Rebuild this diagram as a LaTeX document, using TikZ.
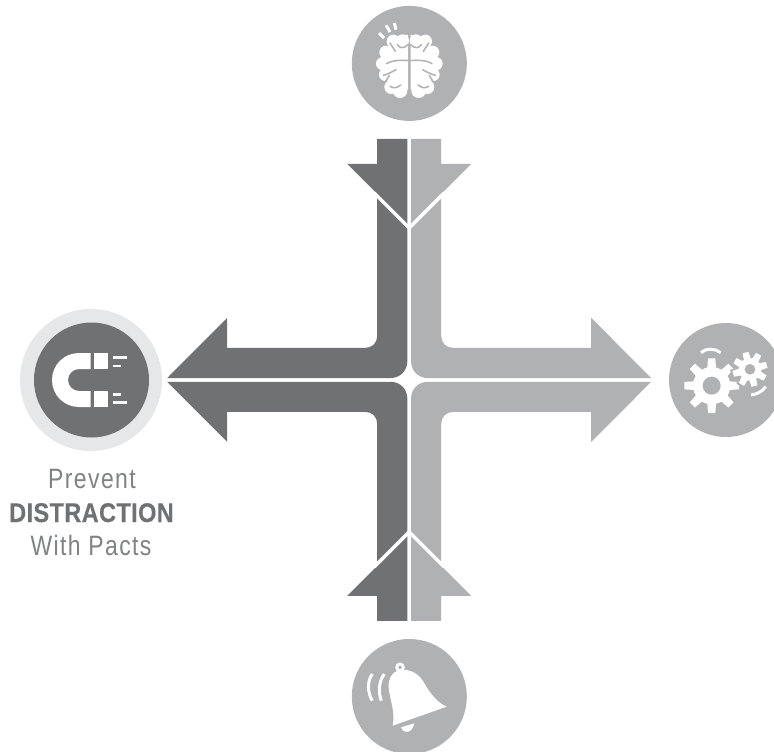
\documentclass[tikz,border=0pt]{standalone}
\usepackage{fontspec}
\setmainfont{Liberation Sans}
\newfontfamily\capreg[FakeStretch=0.82,LetterSpace=5]{Liberation Sans}
\newfontfamily\capbold[FakeStretch=0.87,LetterSpace=1.5,FakeBold=0.4]{Liberation Sans Bold}
\definecolor{armdark}{HTML}{707173}
\definecolor{armlight}{HTML}{B0B1B3}
\definecolor{halo}{HTML}{E6E7E8}
\definecolor{caption}{HTML}{808285}
\newcommand{\armquadrant}[1]{%
  \fill[#1] (-1.85,-241) -- (-32,-241) -- (-32,-216) -- (-62,-216) -- (-32,-186) -- (-32,-44)
    .. controls (-32,-37) and (-37,-32) .. (-44,-32) -- (-182,-32) -- (-182,-62) -- (-242,-1.85)
    -- (-19,-1.85) .. controls (-9,-1.85) and (-1.85,-9) .. (-1.85,-19) -- cycle;
  \draw[white,line width=3.4pt] (-35,-187) -- (0,-152);
}
\newcommand{\brainlobe}{%
  \fill[white] (70,70) circle[radius=20] (98,68) circle[radius=19] (48,103) circle[radius=20]
    (38,137) circle[radius=20] (46,170) circle[radius=19] (64,207) circle[radius=21] (90,218) circle[radius=22];
  \fill[white] (114,50) -- (70,60) -- (45,110) -- (45,170) -- (70,215) -- (114,215) -- cycle;
  \draw[armlight,line width=1.5pt,line cap=round] (82,80) .. controls (90,92) and (102,92) .. (114,80);
  \draw[armlight,line width=1.5pt,line cap=round] (60,75) -- (76,100);
  \draw[armlight,line width=1.5pt,line cap=round] (50,137) .. controls (65,127) and (95,125) .. (116,128);
  \draw[armlight,line width=1.5pt,line cap=round] (40,172) .. controls (55,168) and (65,162) .. (78,155);
  \draw[armlight,line width=1.5pt,line cap=round] (46,192) -- (58,172);
  \draw[armlight,line width=1.5pt,line cap=round] (60,205) .. controls (72,212) and (80,210) .. (92,201);
}
\begin{document}
\begin{tikzpicture}[x=1pt,y=-1pt,
  disc/.style={circle,inner sep=0pt,minimum size=#1,fill=armlight},
  iconline/.style={white,line width=3pt,line cap=round}]
\clip (0,0) rectangle (774,752);
\fill[white] (0,0) rectangle (774,752);
% arrows
\begin{scope}[shift={(409.2,379.9)}]
  \armquadrant{armdark}
  \begin{scope}[xscale=-1]\armquadrant{armlight}\end{scope}
  \begin{scope}[yscale=-1]\armquadrant{armdark}\end{scope}
  \begin{scope}[xscale=-1,yscale=-1]\armquadrant{armlight}\end{scope}
\end{scope}
% discs
\node[disc=115pt] (brain) at (409.3,63.4) {};
\node[disc=114pt] (gears) at (726,380) {};
\node[disc=115pt] (bell) at (409.3,696.5) {};
\node[circle,inner sep=0pt,minimum size=142pt,fill=halo] (haloring) at (91,380) {};
\node[disc=115pt,fill=armdark] (magnet) at (91.5,380) {};
% magnet
\fill[white] (90.7,353) -- (79,353) .. controls (64,353) and (52,365) .. (52,380)
  .. controls (52,395) and (64,407) .. (79,407) -- (90.7,407) -- (90.7,391) -- (79,391)
  .. controls (73,391) and (68,386) .. (68,380) .. controls (68,374) and (73,369) .. (79,369)
  -- (90.7,369) -- cycle;
\fill[white] (94,353) rectangle (108,369);
\fill[white] (94,391) rectangle (108,407);
\begin{scope}[line width=2.9pt,white]
  \draw (113,357.5) -- (127,357.5);
  \draw (113,366) -- (121,366);
  \draw (113,394.7) -- (121,394.7);
  \draw (113,402.7) -- (127,402.7);
\end{scope}
% brain
\begin{scope}[shift={(370,18)},x=1/3*1pt,y=-1/3*1pt]
  \brainlobe
  \begin{scope}[shift={(236,0)},xscale=-1]\brainlobe\end{scope}
  \draw[iconline,line cap=butt] (27,45) -- (42,60);
  \draw[iconline,line cap=butt] (48,22) -- (60,42);
  \draw[iconline,line cap=butt] (73,15) -- (78,35);
\end{scope}
% gears
\begin{scope}[shift={(675,340)},x=1/3*1pt,y=-1/3*1pt]
  \foreach \a in {0,45,...,315}
    \fill[white,shift={(110,137)},rotate=\a] (-14,40) -- (-11,82) -- (11,82) -- (14,40) -- cycle;
  \fill[white] (110,137) circle[radius=56];
  \fill[armlight] (110,137) circle[radius=27];
  \foreach \a in {15,60,...,330}
    \fill[armlight,shift={(225,88)},rotate=\a] (-15,24) -- (-14,58) -- (14,58) -- (15,24) -- cycle;
  \fill[armlight] (225,88) circle[radius=39];
  \foreach \a in {15,60,...,330}
    \fill[white,shift={(225,88)},rotate=\a] (-11,24) -- (-9,52) -- (9,52) -- (11,24) -- cycle;
  \fill[white] (225,88) circle[radius=34];
  \fill[armlight] (225,88) circle[radius=16];
  \draw[iconline,line cap=butt] (78,38) .. controls (92,24) and (120,24) .. (137,38);
  \draw[iconline,line cap=butt] (228,165) .. controls (245,163) and (262,155) .. (272,140);
\end{scope}
% bell
\begin{scope}[shift={(365,655)},x=1/3*1pt,y=-1/3*1pt]
  \draw[white,line width=2.8pt] (105,37) circle[radius=10];
  \fill[white] (100,46) .. controls (80,52) and (70,72) .. (71,95)
    .. controls (72,130) and (92,165) .. (83,212) -- (245,155)
    .. controls (210,140) and (190,105) .. (172,75)
    .. controls (155,50) and (125,40) .. (100,46) -- cycle;
  \fill[white] (108,217) .. controls (112,235) and (140,240) .. (148,205) -- cycle;
  \draw[iconline,line cap=butt] (22,57) .. controls (5,80) and (8,115) .. (22,137);
  \draw[iconline,line cap=butt] (58,57) .. controls (40,80) and (40,115) .. (49,137);
\end{scope}
% caption
\node[inner sep=0pt,anchor=base,text=caption,font=\capreg\fontsize{28}{28}\selectfont] (captop) at (92,488) {Prevent};
\node[inner sep=0pt,anchor=base,text=armdark,font=\capbold\fontsize{27}{27}\selectfont] (capmid) at (91.5,522) {DISTRACTION};
\node[inner sep=0pt,anchor=base,text=caption,font=\capreg\fontsize{28}{28}\selectfont] (capbot) at (91,555) {With Pacts};
\end{tikzpicture}
\end{document}
